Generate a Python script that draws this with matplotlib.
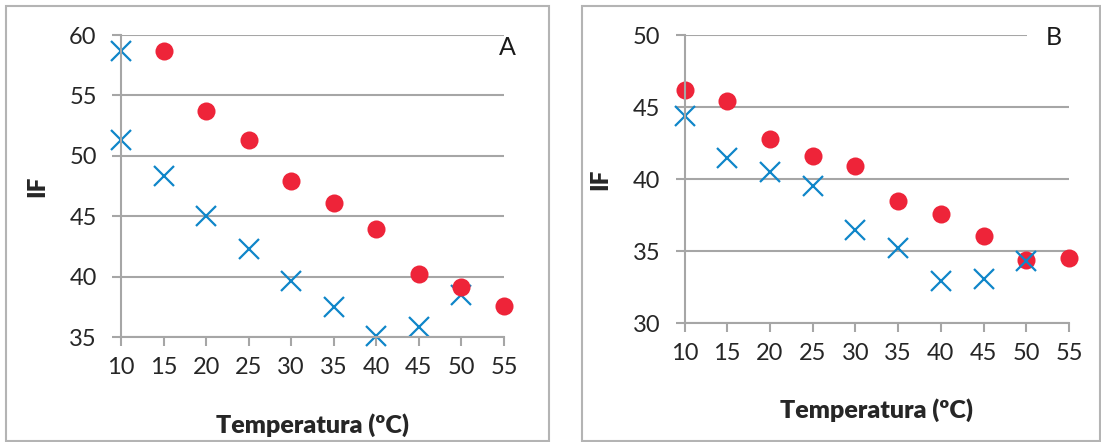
import matplotlib
matplotlib.use('Agg')
import matplotlib.pyplot as plt
from matplotlib.patches import Rectangle

plt.rcParams['font.family'] = ['Lato', 'DejaVu Sans']

# panel A
a_red_x = [15, 20, 25, 30, 35, 40, 45, 50, 55]
a_red_y = [58.7, 53.7, 51.3, 47.9, 46.1, 43.9, 40.25, 39.1, 37.6]
a_blue_x = [10, 10, 15, 20, 25, 30, 35, 40, 45, 50]
a_blue_y = [58.7, 51.3, 48.3, 45.0, 42.3, 39.6, 37.5, 35.05, 35.8, 38.5]

# panel B
b_red_x = [10, 15, 20, 25, 30, 35, 40, 45, 50, 55]
b_red_y = [46.2, 45.4, 42.8, 41.6, 40.9, 38.5, 37.6, 36.05, 34.4, 34.5]
b_blue_x = [10, 15, 20, 25, 30, 35, 40, 45, 50]
b_blue_y = [44.4, 41.5, 40.5, 39.5, 36.5, 35.2, 32.9, 33.05, 34.3]

x_ticks = [10, 15, 20, 25, 30, 35, 40, 45, 50, 55]

RED = '#ee2439'
BLUE = '#0f86c9'
GRID = '#a6a6a6'
W, H = 1101, 442

fig = plt.figure(figsize=(W / 100, H / 100), dpi=100)

# outer frames of the two chart boxes
for x0, x1 in [(6, 549), (582, 1100)]:
    fig.patches.append(Rectangle((x0 / W, 1 - 441 / H), (x1 - x0) / W, 435 / H,
                                 transform=fig.transFigure, fill=False,
                                 edgecolor='#b4b4b4', linewidth=1.5))


def setup(ax, ylim, yticks, letter, lx, ly, boxed):
    ax.set_xlim(10, 55)
    ax.set_ylim(*ylim)
    ax.set_xticks(x_ticks)
    ax.set_yticks(yticks)
    ax.yaxis.grid(True, color=GRID, linewidth=1.5)
    ax.set_axisbelow(True)
    for s in ['top', 'right']:
        ax.spines[s].set_visible(False)
    for s in ['left', 'bottom']:
        ax.spines[s].set_color(GRID)
        ax.spines[s].set_linewidth(1.5)
    ax.tick_params(axis='both', direction='out', length=6.5, width=1.5,
                   color=GRID, labelsize=17, labelcolor='#262626')
    ax.tick_params(axis='y', pad=11)
    ax.tick_params(axis='x', pad=8)
    ax.set_xlabel('Temperatura (ºC)', fontsize=18, fontweight='heavy', color='#262626')
    ax.set_ylabel('IF', fontsize=17.5, fontweight='heavy', color='#262626')
    bbox = dict(boxstyle='square,pad=0.75', facecolor='white', edgecolor='none') if boxed else None
    ax.text(lx, ly, letter, transform=ax.transAxes, ha='center', va='center',
            fontsize=18, color='#1a1a1a', bbox=bbox, zorder=5)


axA = fig.add_axes([121 / W, 1 - 337 / H, 383 / W, 302 / H])
axA.plot(a_blue_x, a_blue_y, 'x', color=BLUE, markersize=14, markeredgewidth=1.6, clip_on=False)
axA.plot(a_red_x, a_red_y, 'o', color=RED, markersize=13, markeredgewidth=0, clip_on=False)
setup(axA, (35, 60), [35, 40, 45, 50, 55, 60], 'A', 1.01, 0.96, False)
axA.xaxis.set_label_coords(0.5, -0.252)
axA.yaxis.set_label_coords(-0.19, 0.5)

axB = fig.add_axes([684.5 / W, 1 - 323.3 / H, 384.5 / W, 288.3 / H])
axB.plot(b_red_x, b_red_y, 'o', color=RED, markersize=13, markeredgewidth=0, clip_on=False)
axB.plot(b_blue_x, b_blue_y, 'x', color=BLUE, markersize=14, markeredgewidth=1.6, clip_on=False)
setup(axB, (30, 50), [30, 35, 40, 45, 50], 'B', 0.961, 0.993, True)
axB.xaxis.set_label_coords(0.5, -0.259)
axB.yaxis.set_label_coords(-0.19, 0.5)

fig.savefig('out.png', dpi=100)
